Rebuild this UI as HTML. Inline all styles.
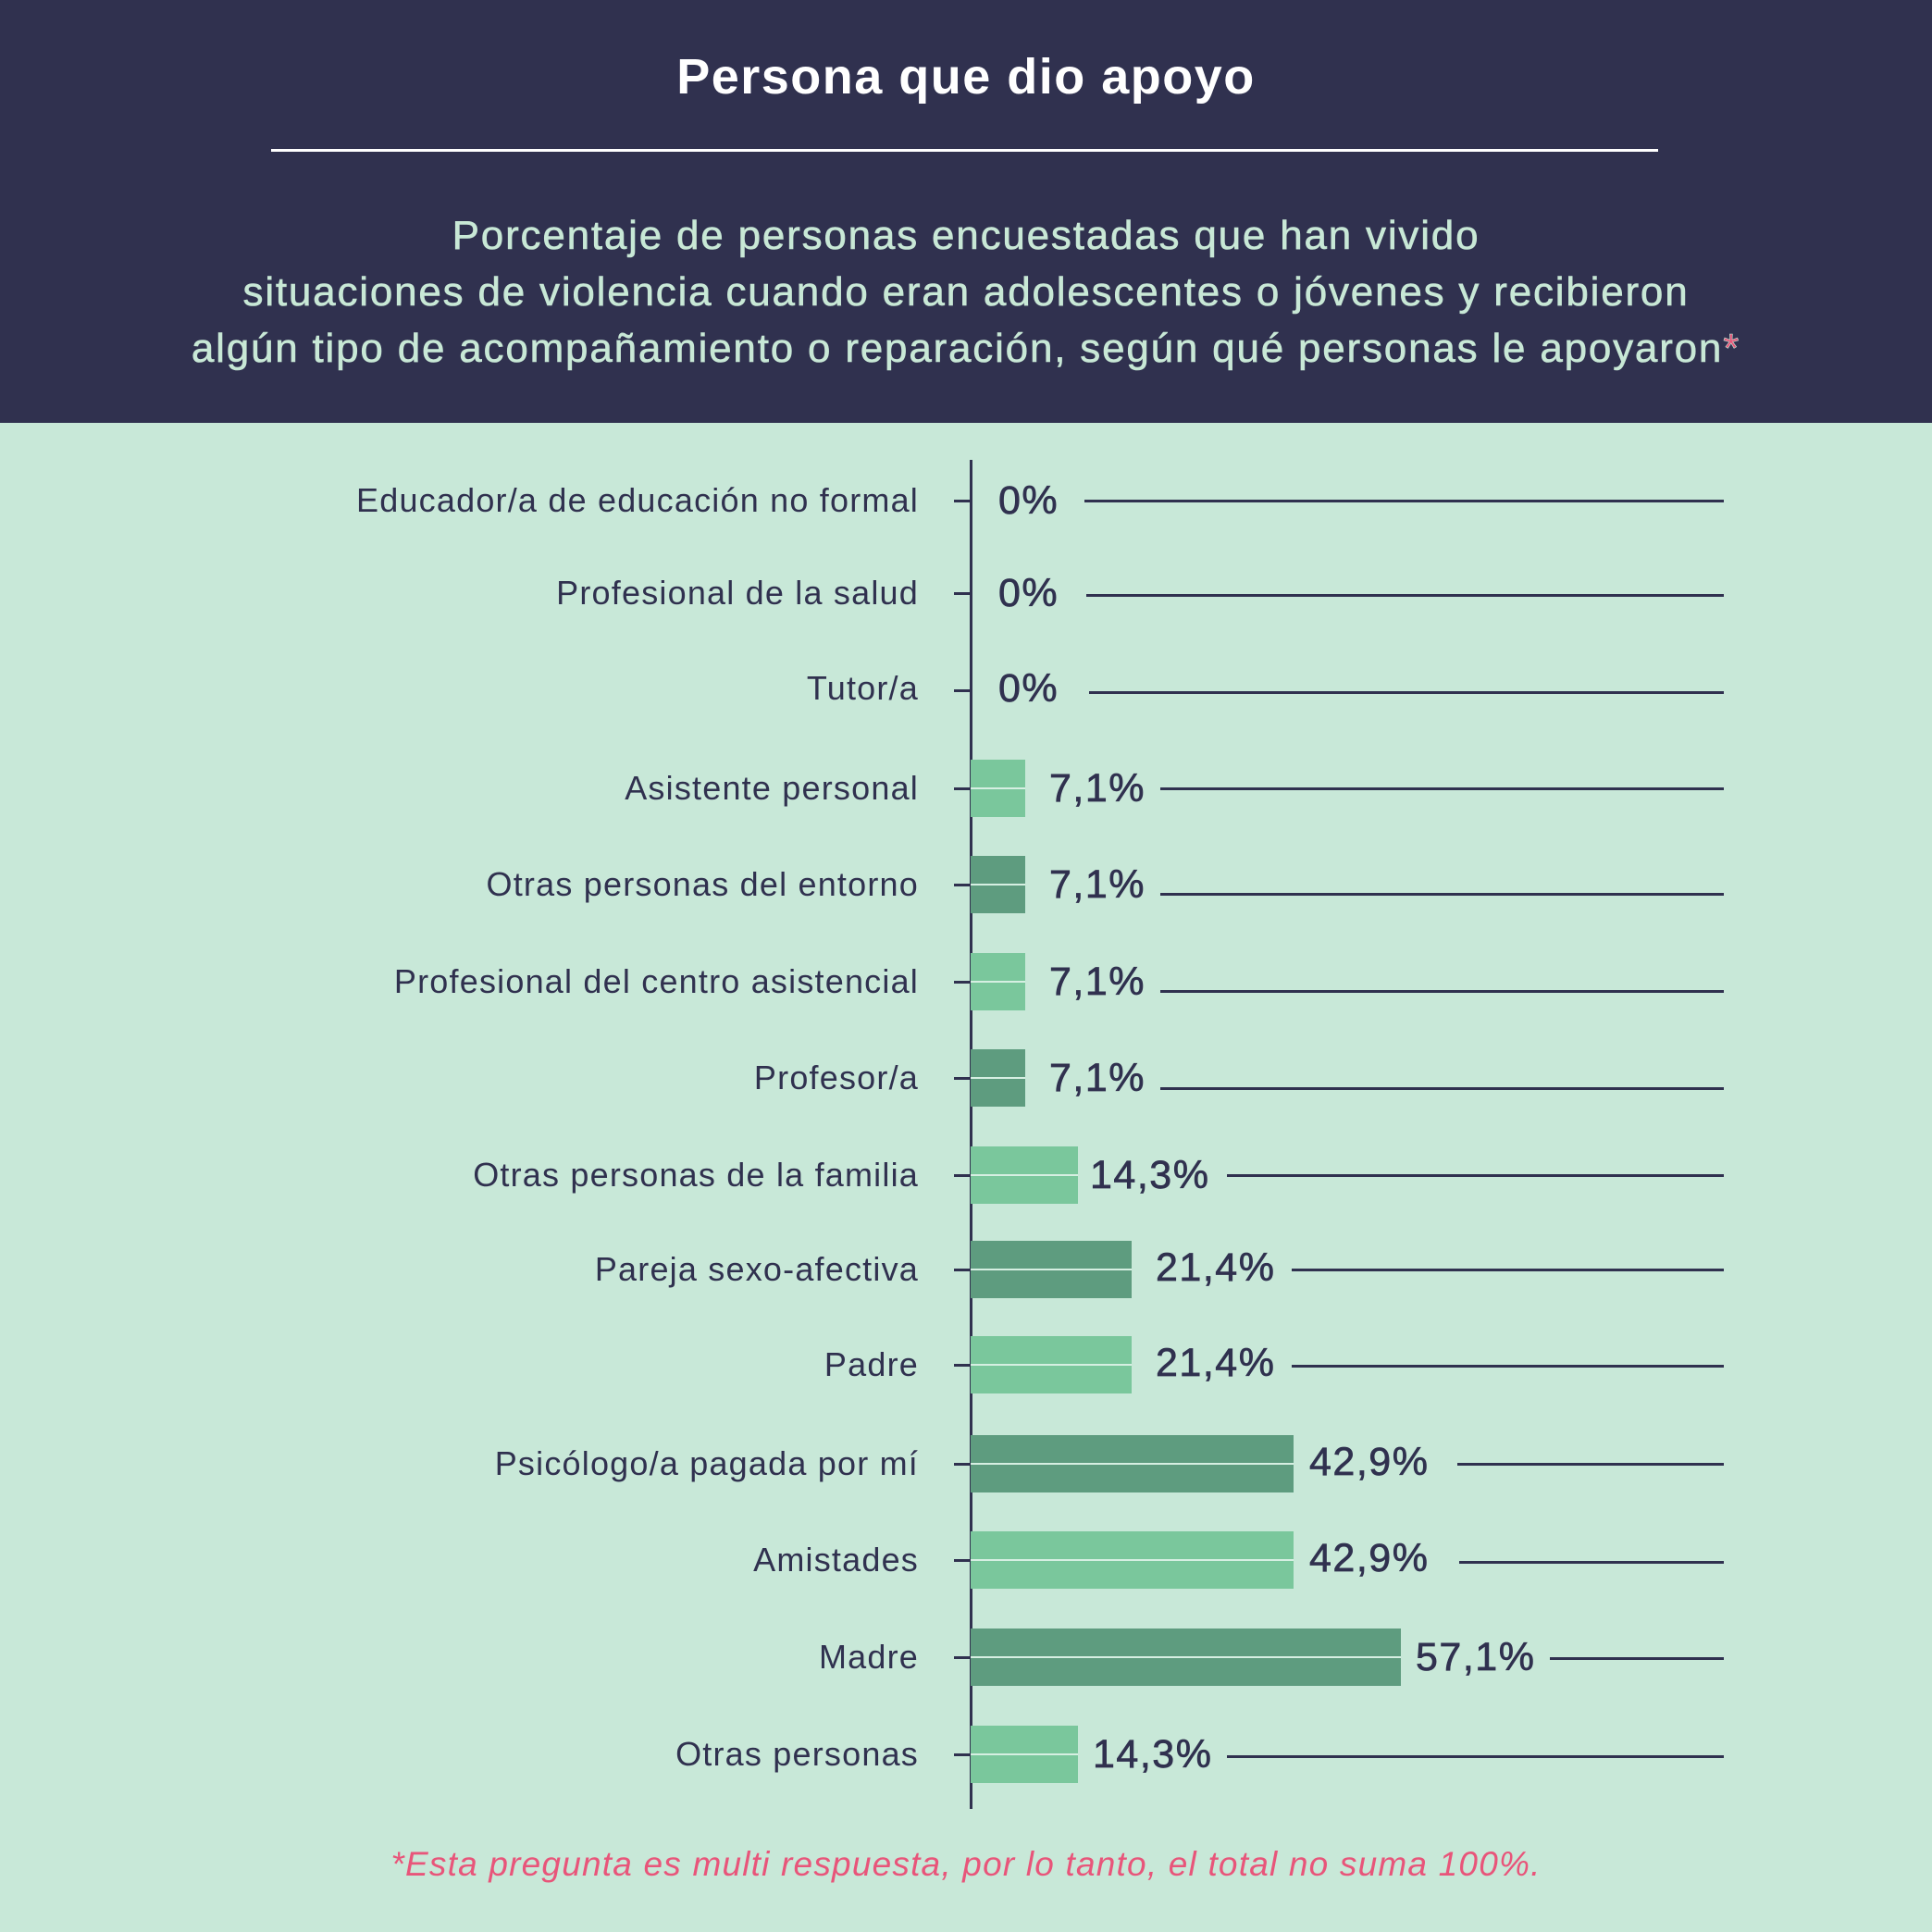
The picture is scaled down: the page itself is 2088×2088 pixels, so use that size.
<!DOCTYPE html>
<html><head><meta charset="utf-8"><style>
*{margin:0;padding:0;box-sizing:border-box}
body{width:2088px;height:2088px;background:#c8e8d8;position:relative;overflow:hidden;font-family:"Liberation Sans",sans-serif;color:#30314f}
#hd{position:absolute;left:0;top:0;width:2088px;height:457px;background:#30314f}
.t{position:absolute;left:0;width:2088px;text-align:center}
.lab{position:absolute;right:1095px;font-size:36px;letter-spacing:1.2px;line-height:40px;white-space:nowrap;transform:translateY(-50%)}
.tick{position:absolute;left:1031px;width:18px;height:2.5px;background:#30314f}
.bar{position:absolute;left:1049px;height:62px;transform:translateY(-50%)}
.bar::after{content:"";position:absolute;left:0;right:0;top:30px;height:2px;background:#d6efe2}
.L{background:#7ac79c}.D{background:#5e9c7f}
.val{position:absolute;font-size:43px;letter-spacing:1.5px;line-height:44px;transform:translateY(-50%);-webkit-text-stroke:0.7px #30314f;white-space:nowrap}
.ln{position:absolute;height:2.5px;background:#30314f}
</style></head><body>
<div id="hd"></div>
<div class="t" style="top:52px;font-size:54px;letter-spacing:1.5px;font-weight:bold;color:#fff">Persona que dio apoyo</div>
<div style="position:absolute;left:293px;top:161px;width:1499px;height:3px;background:#fff"></div>
<div class="t" style="top:224px;font-size:44px;letter-spacing:1.8px;line-height:61px;color:#c8e8d6;-webkit-text-stroke:0.6px #c8e8d6">Porcentaje de personas encuestadas que han vivido<br>situaciones de violencia cuando eran adolescentes o jóvenes y recibieron<br>algún tipo de acompañamiento o reparación, según qué personas le apoyaron<span style="color:#e8557a">*</span></div>
<div style="position:absolute;left:1048px;top:497px;width:3px;height:1458px;background:#30314f"></div>

<div class="lab" style="top:541px">Educador/a de educación no formal</div><div class="tick" style="top:540px"></div><div class="val" style="left:1079px;top:541px">0%</div><div class="ln" style="left:1172px;width:691px;top:540px"></div>
<div class="lab" style="top:641px">Profesional de la salud</div><div class="tick" style="top:640px"></div><div class="val" style="left:1079px;top:641px">0%</div><div class="ln" style="left:1174px;width:689px;top:642px"></div>
<div class="lab" style="top:744px">Tutor/a</div><div class="tick" style="top:745px"></div><div class="val" style="left:1079px;top:744px">0%</div><div class="ln" style="left:1177px;width:686px;top:747px"></div>

<div class="lab" style="top:852px">Asistente personal</div><div class="tick" style="top:851px"></div><div class="bar L" style="top:852px;width:59px"></div><div class="val" style="left:1134px;top:852px">7,1%</div><div class="ln" style="left:1254px;width:609px;top:851px"></div>
<div class="lab" style="top:956px">Otras personas del entorno</div><div class="tick" style="top:955px"></div><div class="bar D" style="top:956px;width:59px"></div><div class="val" style="left:1134px;top:956px">7,1%</div><div class="ln" style="left:1254px;width:609px;top:965px"></div>
<div class="lab" style="top:1061px">Profesional del centro asistencial</div><div class="tick" style="top:1060px"></div><div class="bar L" style="top:1061px;width:59px"></div><div class="val" style="left:1134px;top:1061px">7,1%</div><div class="ln" style="left:1254px;width:609px;top:1070px"></div>
<div class="lab" style="top:1165px">Profesor/a</div><div class="tick" style="top:1164px"></div><div class="bar D" style="top:1165px;width:59px"></div><div class="val" style="left:1134px;top:1165px">7,1%</div><div class="ln" style="left:1254px;width:609px;top:1175px"></div>
<div class="lab" style="top:1270px">Otras personas de la familia</div><div class="tick" style="top:1269px"></div><div class="bar L" style="top:1270px;width:116px"></div><div class="val" style="left:1178px;top:1270px">14,3%</div><div class="ln" style="left:1326px;width:537px;top:1269px"></div>
<div class="lab" style="top:1372px">Pareja sexo-afectiva</div><div class="tick" style="top:1371px"></div><div class="bar D" style="top:1372px;width:174px"></div><div class="val" style="left:1249px;top:1370px">21,4%</div><div class="ln" style="left:1396px;width:467px;top:1371px"></div>
<div class="lab" style="top:1475px">Padre</div><div class="tick" style="top:1474px"></div><div class="bar L" style="top:1475px;width:174px"></div><div class="val" style="left:1249px;top:1473px">21,4%</div><div class="ln" style="left:1396px;width:467px;top:1475px"></div>
<div class="lab" style="top:1582px">Psicólogo/a pagada por mí</div><div class="tick" style="top:1581px"></div><div class="bar D" style="top:1582px;width:349px"></div><div class="val" style="left:1415px;top:1580px">42,9%</div><div class="ln" style="left:1575px;width:288px;top:1581px"></div>
<div class="lab" style="top:1686px">Amistades</div><div class="tick" style="top:1685px"></div><div class="bar L" style="top:1686px;width:349px"></div><div class="val" style="left:1415px;top:1684px">42,9%</div><div class="ln" style="left:1577px;width:286px;top:1687px"></div>
<div class="lab" style="top:1791px">Madre</div><div class="tick" style="top:1790px"></div><div class="bar D" style="top:1791px;width:465px"></div><div class="val" style="left:1530px;top:1791px">57,1%</div><div class="ln" style="left:1675px;width:188px;top:1791px"></div>
<div class="lab" style="top:1896px">Otras personas</div><div class="tick" style="top:1895px"></div><div class="bar L" style="top:1896px;width:116px"></div><div class="val" style="left:1181px;top:1896px">14,3%</div><div class="ln" style="left:1326px;width:537px;top:1897px"></div>

<div class="t" style="top:1994px;font-size:37px;letter-spacing:1.2px;font-style:italic;color:#e8557a">*Esta pregunta es multi respuesta, por lo tanto, el total no suma 100%.</div>
</body></html>
